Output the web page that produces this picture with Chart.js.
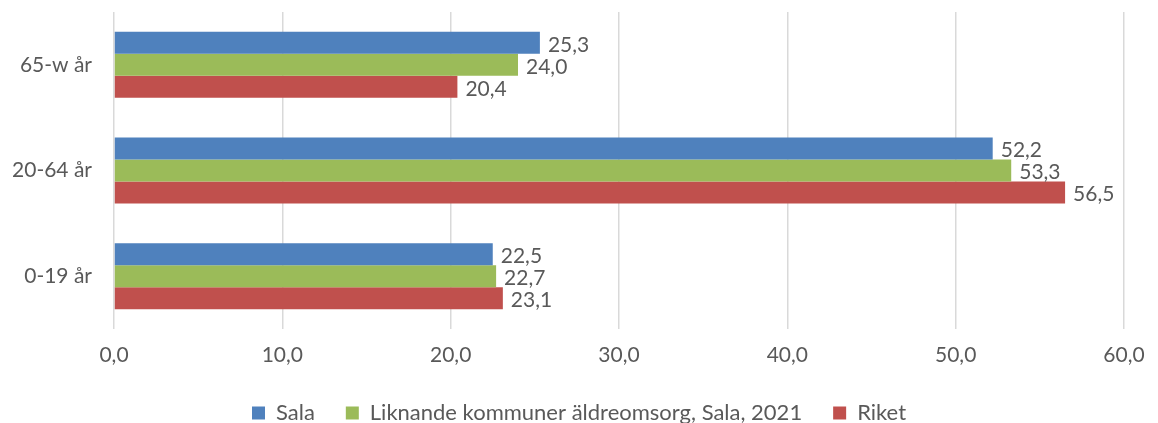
<!DOCTYPE html>
<html>
<head>
<meta charset="utf-8">
<script src="https://cdn.jsdelivr.net/npm/chart.js@4/dist/chart.umd.min.js"></script>
<style>
  html, body { margin: 0; padding: 0; background: #fff; overflow: hidden; }
  #wrap { width: 1158px; height: 434px; position: relative; }
</style>
</head>
<body>
<div id="wrap"><canvas id="c"></canvas></div>
<script>
const categories = ["65-w år", "20-64 år", "0-19 år"];
const seriesNames = ["Sala", "Liknande kommuner äldreomsorg, Sala, 2021", "Riket"];
const salaValues = [25.3, 52.2, 22.5];
const liknandeValues = [24.0, 53.3, 22.7];
const riketValues = [20.4, 56.5, 23.1];
const xTicks = [0, 10, 20, 30, 40, 50, 60];

const FONT = "Lato, 'Open Sans', sans-serif";
const TXT = "#595959";

const fmt = v => v.toFixed(1).replace(".", ",");

const valueLabels = {
  id: "valueLabels",
  afterDatasetsDraw(chart) {
    const ctx = chart.ctx;
    ctx.save();
    ctx.font = "21px " + FONT;
    ctx.fillStyle = TXT;
    ctx.textAlign = "left";
    ctx.textBaseline = "middle";
    chart.data.datasets.forEach((ds, i) => {
      const meta = chart.getDatasetMeta(i);
      meta.data.forEach((bar, j) => {
        ctx.fillText(fmt(ds.data[j]), bar.x + 8, bar.y + 2);
      });
    });
    ctx.restore();
  }
};

new Chart(document.getElementById("c"), {
  type: "bar",
  data: {
    labels: categories,
    datasets: [
      { label: seriesNames[0], data: salaValues, backgroundColor: "#4F81BD" },
      { label: seriesNames[1], data: liknandeValues, backgroundColor: "#9BBB59" },
      { label: seriesNames[2], data: riketValues, backgroundColor: "#C0504D" }
    ]
  },
  options: {
    indexAxis: "y",
    responsive: true,
    maintainAspectRatio: false,
    animation: false,
    datasets: { bar: { categoryPercentage: 0.625, barPercentage: 1.0, borderWidth: 0 } },
    layout: { padding: { top: 12, right: 0, left: 0, bottom: 0 } },
    plugins: {
      legend: {
        position: "bottom",
        labels: {
          font: { family: FONT, size: 22 },
          color: TXT,
          boxWidth: 13,
          boxHeight: 13,
          padding: 31
        }
      },
      tooltip: { enabled: false }
    },
    scales: {
      x: {
        min: 0, max: 60,
        afterBuildTicks: s => { s.ticks = xTicks.map(v => ({ value: v })); },
        afterFit: s => { s.paddingLeft = 0; s.paddingRight = 34; s.height = 42; },
        ticks: {
          font: { family: FONT, size: 21 },
          color: TXT,
          padding: 14,
          callback: v => fmt(v)
        },
        grid: { color: "#D9D9D9", lineWidth: 1.5, drawTicks: false },
        border: { display: false }
      },
      y: {
        afterFit: s => { s.width = 114; s.paddingTop = 0; s.paddingBottom = 0; },
        ticks: {
          font: { family: FONT, size: 21 },
          color: TXT,
          padding: 22
        },
        grid: { display: false, drawTicks: false },
        border: { display: false }
      }
    }
  },
  plugins: [valueLabels]
});
</script>
</body>
</html>
